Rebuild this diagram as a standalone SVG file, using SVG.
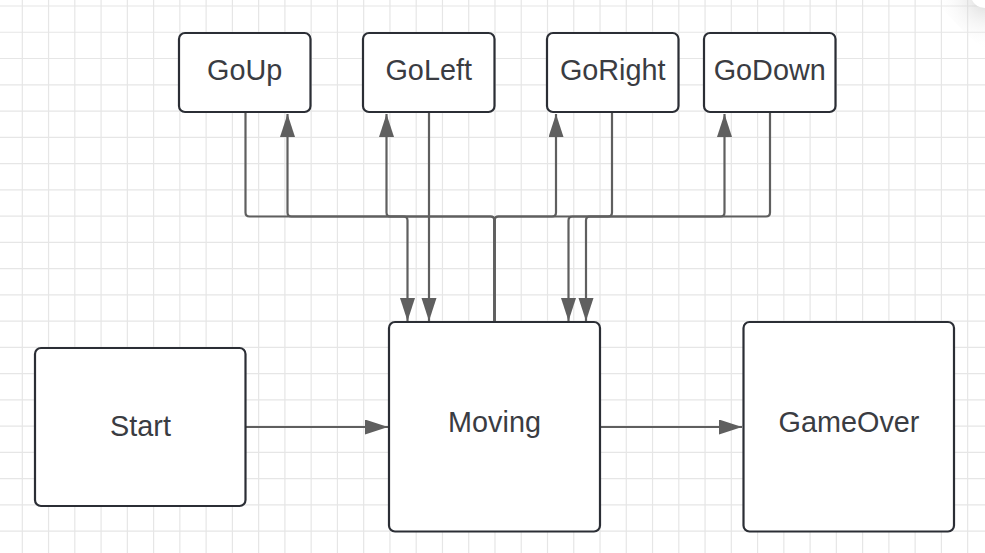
<svg xmlns="http://www.w3.org/2000/svg" width="985" height="553" viewBox="0 0 985 553">
<style>
.grid{stroke:#e6e6e6;stroke-width:1.2;fill:none}
.node rect{fill:#ffffff;stroke:#2b2e35;stroke-width:2.2}
.node text{font-family:"Liberation Sans",Arial,sans-serif;font-size:28.8px;fill:#3a3c42;text-anchor:middle}
.conn path{fill:none;stroke:#5f5f5f;stroke-width:2.2;marker-end:url(#arr)}
.conn path.plain{marker-end:none}
</style>
<defs>
<marker id="arr" markerUnits="userSpaceOnUse" markerWidth="24" markerHeight="16" refX="23" refY="7.5" orient="auto">
<path d="M0,0 L23,7.5 L0,15 Z" fill="#5f5f5f"/>
</marker>
<radialGradient id="curl" cx="985" cy="0" r="50" gradientUnits="userSpaceOnUse">
<stop offset="0" stop-color="#bdbdbd" stop-opacity="0.55"/>
<stop offset="1" stop-color="#ffffff" stop-opacity="0"/>
</radialGradient>
</defs>
<rect width="985" height="553" fill="#ffffff"/>
<path class="grid" d="M22.3,0V553M48.56,0V553M74.82,0V553M101.08,0V553M127.34,0V553M153.6,0V553M179.86,0V553M206.12,0V553M232.38,0V553M258.64,0V553M284.9,0V553M311.16,0V553M337.42,0V553M363.68,0V553M389.94,0V553M416.2,0V553M442.46,0V553M468.72,0V553M494.98,0V553M521.24,0V553M547.5,0V553M573.76,0V553M600.02,0V553M626.28,0V553M652.54,0V553M678.8,0V553M705.06,0V553M731.32,0V553M757.58,0V553M783.84,0V553M810.1,0V553M836.36,0V553M862.62,0V553M888.88,0V553M915.14,0V553M941.4,0V553M967.66,0V553
M0,6H985M0,32.26H985M0,58.52H985M0,84.78H985M0,111.04H985M0,137.3H985M0,163.56H985M0,189.82H985M0,216.08H985M0,242.34H985M0,268.6H985M0,294.86H985M0,321.12H985M0,347.38H985M0,373.64H985M0,399.9H985M0,426.16H985M0,452.42H985M0,478.68H985M0,504.94H985M0,531.2H985"/>
<path d="M935,0 L985,0 L985,50 Q960,30 935,0 Z" fill="url(#curl)"/>
<path d="M972,0 Q975,7 985,8 L985,0 Z" fill="#ffffff"/>

<g id="connectors" class="conn">
<path d="M494.5,322 L494.5,220.5 Q494.5,216.5 490.5,216.5 L291.5,216.5 Q287.5,216.5 287.5,212.5 L287.5,114"/>
<path d="M494.5,322 L494.5,220.5 Q494.5,216.5 490.5,216.5 L390.5,216.5 Q386.5,216.5 386.5,212.5 L386.5,114"/>
<path d="M494.5,322 L494.5,220.5 Q494.5,216.5 498.5,216.5 L552,216.5 Q556,216.5 556,212.5 L556,114"/>
<path d="M494.5,322 L494.5,220.5 Q494.5,216.5 498.5,216.5 L720.5,216.5 Q724.5,216.5 724.5,212.5 L724.5,114"/>
<path d="M245.5,113 L245.5,212.5 Q245.5,216.5 249.5,216.5 L403.5,216.5 Q407.5,216.5 407.5,220.5 L407.5,321"/>
<path d="M429,113 L429,321"/>
<path d="M612,113 L612,212.5 Q612,216.5 608,216.5 L590,216.5 Q586,216.5 586,220.5 L586,321"/>
<path d="M770,113 L770,212.5 Q770,216.5 766,216.5 L572.5,216.5 Q568.5,216.5 568.5,220.5 L568.5,321"/>
<path d="M246,427 L388,427"/>
<path d="M600,427 L742,427"/>
</g>

<g id="node-goup" class="node">
<rect x="179" y="33" width="131.5" height="79" rx="6"/>
<text x="244.7" y="79.5">GoUp</text>
</g>
<g id="node-goleft" class="node">
<rect x="363" y="33" width="131.5" height="79" rx="6"/>
<text x="428.7" y="79.5">GoLeft</text>
</g>
<g id="node-goright" class="node">
<rect x="547" y="33" width="131.5" height="79" rx="6"/>
<text x="612.7" y="79.5">GoRight</text>
</g>
<g id="node-godown" class="node">
<rect x="704" y="33" width="131.5" height="79" rx="6"/>
<text x="769.7" y="79.5">GoDown</text>
</g>
<g id="node-start" class="node">
<rect x="35" y="348" width="210.5" height="158" rx="6"/>
<text x="140.5" y="435.5">Start</text>
</g>
<g id="node-moving" class="node">
<rect x="389" y="322" width="211" height="209.5" rx="6"/>
<text x="494.5" y="432">Moving</text>
</g>
<g id="node-gameover" class="node">
<rect x="743.5" y="322" width="210.5" height="209.5" rx="6"/>
<text x="849" y="432">GameOver</text>
</g>
</svg>
